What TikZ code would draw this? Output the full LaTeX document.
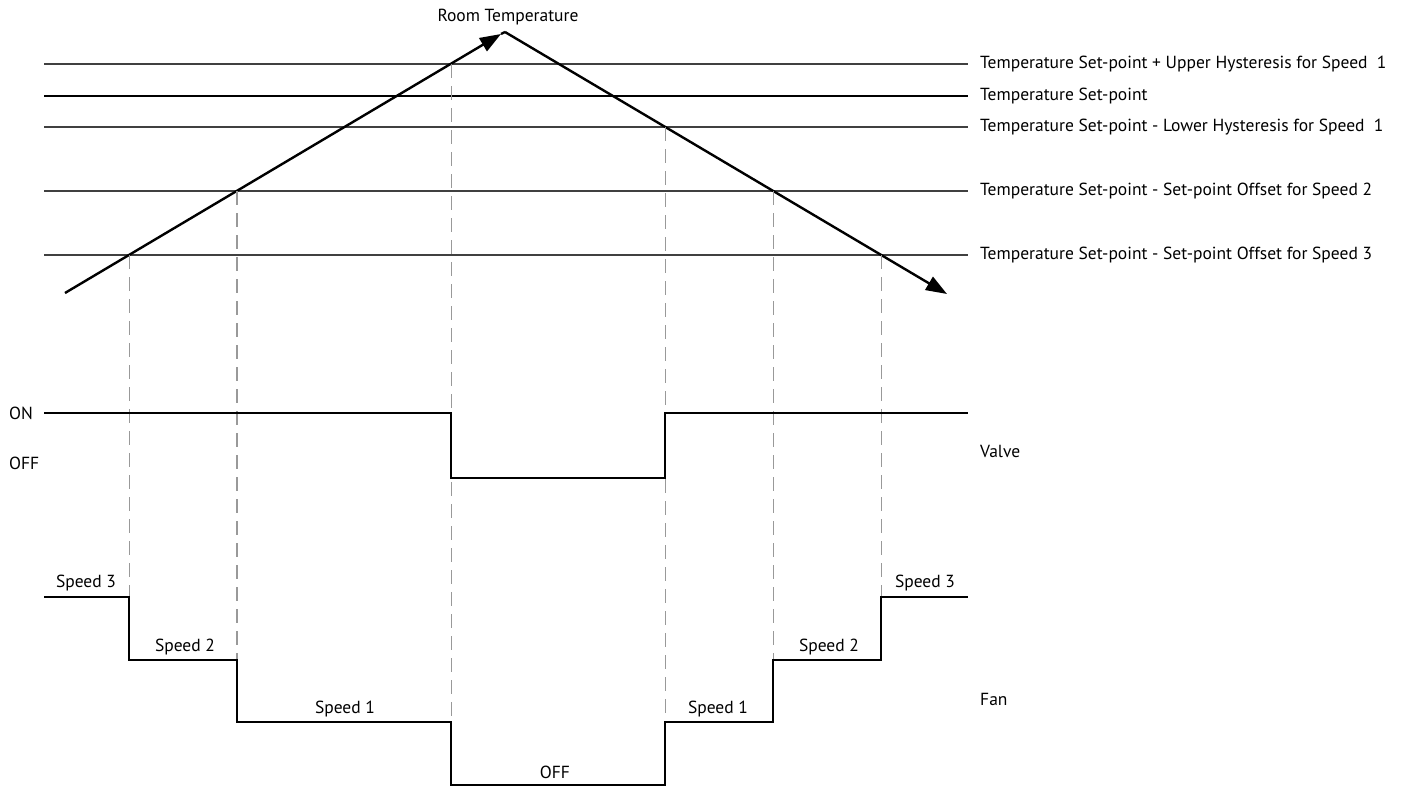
\documentclass[tikz,border=0pt]{standalone}
\usepackage{fontspec}
\setmainfont{PT Sans}
\usetikzlibrary{arrows.meta}
\begin{document}
\begin{tikzpicture}[x=1pt,y=-1pt,
  lvl/.style={draw=black!75, line width=1.1pt},
  lvlthick/.style={draw=black, line width=2.4pt},
  temp/.style={draw=black, line width=2.4pt},
  sig/.style={draw=black, line width=2.4pt, line join=miter},
  guide/.style={draw=black!40, line width=1.1pt, dash pattern=on 14pt off 8pt},
  lbl/.style={font=\fontsize{17.5}{19}\selectfont, inner sep=0pt, anchor=west},
  clbl/.style={font=\fontsize{17.5}{19}\selectfont, inner sep=0pt}]
\useasboundingbox (0,0) rectangle (1403,789);
% temperature levels
\coordinate (h1a) at (44,64);  \coordinate (h1b) at (968,64);
\coordinate (h2a) at (44,96);  \coordinate (h2b) at (968,96);
\coordinate (h3a) at (44,127); \coordinate (h3b) at (968,127);
\coordinate (h4a) at (44,191); \coordinate (h4b) at (968,191);
\coordinate (h5a) at (44,255); \coordinate (h5b) at (968,255);
\draw[lvl] (h1a) -- (h1b);
\draw[lvlthick] (h2a) -- (h2b);
\draw[lvl] (h3a) -- (h3b);
\draw[lvl] (h4a) -- (h4b);
\draw[lvl] (h5a) -- (h5b);
\node[lbl] (t1) at (980,64) {Temperature Set-point + Upper Hysteresis for Speed\ \ 1};
\node[lbl] (t2) at (980,96) {Temperature Set-point};
\node[lbl] (t3) at (980,127) {Temperature Set-point - Lower Hysteresis for Speed\ \ 1};
\node[lbl] (t4) at (980,191) {Temperature Set-point - Set-point Offset for Speed 2};
\node[lbl] (t5) at (980,255) {Temperature Set-point - Set-point Offset for Speed 3};
% room temperature
\coordinate (s) at (65,293);
\coordinate (apex) at (505,32);
\coordinate (tipA) at (501,34);
\coordinate (e) at (947,294);
\draw[temp, -{Triangle[length=21pt,width=15pt]}] (s) -- (tipA);
\draw[temp, -{Triangle[length=21pt,width=15pt]}] (apex) -- (e);
\draw[temp] (tipA) -- (apex);
\node[clbl] (rt) at (508,17) {Room Temperature};
% intersections
\coordinate (i5) at (intersection of s--apex and h5a--h5b);
\coordinate (i4) at (intersection of s--apex and h4a--h4b);
\coordinate (i1) at (intersection of s--apex and h1a--h1b);
\coordinate (j3) at (intersection of apex--e and h3a--h3b);
\coordinate (j4) at (intersection of apex--e and h4a--h4b);
\coordinate (j5) at (intersection of apex--e and h5a--h5b);
% fan steps
\coordinate (f0) at (44,597);
\coordinate (f1) at (i5 |- f0);
\coordinate (f2) at (i5 |- 0,660);
\coordinate (f3) at (i4 |- 0,660);
\coordinate (f4) at (i4 |- 0,722);
\coordinate (f5) at (i1 |- 0,722);
\coordinate (f6) at (i1 |- 0,785);
\coordinate (f7) at (j3 |- 0,785);
\coordinate (f8) at (j3 |- 0,722);
\coordinate (f9) at (j4 |- 0,722);
\coordinate (f10) at (j4 |- 0,660);
\coordinate (f11) at (j5 |- 0,660);
\coordinate (f12) at (j5 |- 0,597);
\coordinate (f13) at (968,597);
% guides
\draw[guide] (i5) -- (f1);
\draw[guide] (i4) -- (f3);
\draw[guide] (i1) -- (f5);
\draw[guide] (j3) -- (f8);
\draw[guide] (j4) -- (f10);
\draw[guide] (j5) -- (f12);
% valve
\coordinate (v0) at (44,413);
\coordinate (v1) at (i1 |- v0);
\coordinate (v2) at (i1 |- 0,478);
\coordinate (v3) at (j3 |- 0,478);
\coordinate (v4) at (j3 |- v0);
\coordinate (v5) at (968,413);
\draw[sig] (v0) -- (v1) -- (v2) -- (v3) -- (v4) -- (v5);
\node[lbl] (on) at (9,413) {ON};
\node[lbl] (off) at (9,463) {OFF};
\node[lbl] (valve) at (980,451) {Valve};
% fan
\draw[sig] (f0) -- (f1) -- (f2) -- (f3) -- (f4) -- (f5) -- (f6) -- (f7) -- (f8) -- (f9) -- (f10) -- (f11) -- (f12) -- (f13);
\node[clbl] (sp3a) at (86,583) {Speed 3};
\node[clbl] (sp2a) at (185,647) {Speed 2};
\node[clbl] (sp1a) at (345,709) {Speed 1};
\node[clbl] (foff) at (555,772) {OFF};
\node[clbl] (sp1b) at (718,709) {Speed 1};
\node[clbl] (sp2b) at (829,647) {Speed 2};
\node[clbl] (sp3b) at (925,583) {Speed 3};
\node[lbl] (fan) at (980,699) {Fan};
\end{tikzpicture}
\end{document}
